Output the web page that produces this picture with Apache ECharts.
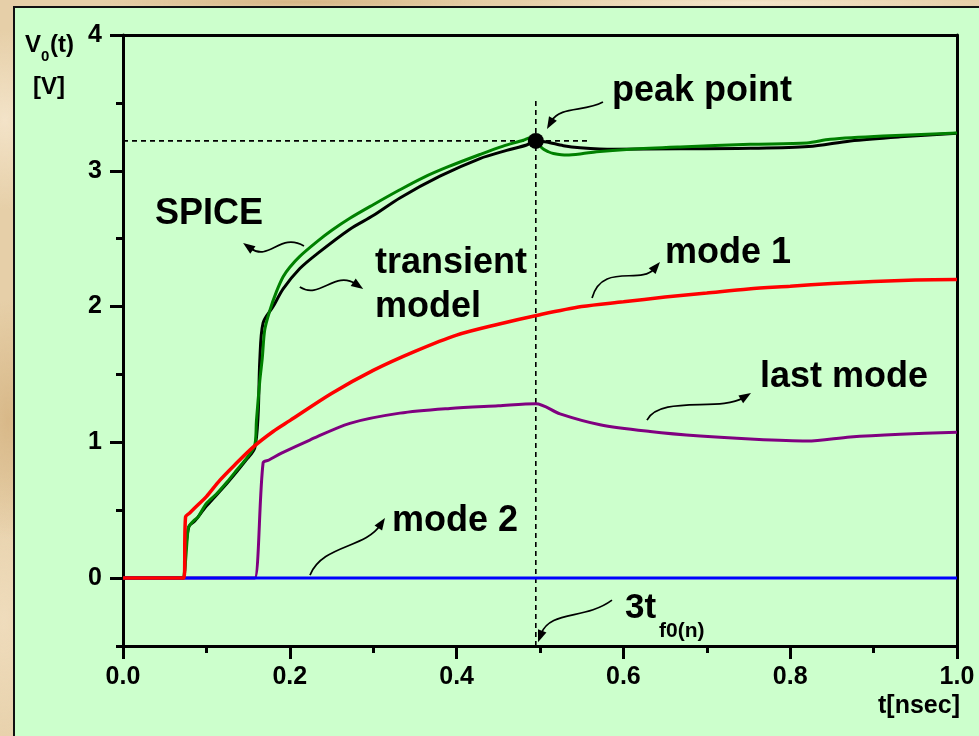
<!DOCTYPE html>
<html><head><meta charset="utf-8">
<script src="https://cdn.jsdelivr.net/npm/echarts@6/dist/echarts.min.js"></script>
<style>
html,body{margin:0;padding:0;width:979px;height:736px;overflow:hidden;}
body{background-color:#e6cfa8;
background-image:
 radial-gradient(ellipse 60px 90px at 5px 120px,#f3e3c8 0%,rgba(243,227,200,0) 100%),
 radial-gradient(ellipse 50px 120px at 8px 420px,#d8b888 0%,rgba(216,184,136,0) 100%),
 radial-gradient(ellipse 200px 8px at 300px 2px,#d6b585 0%,rgba(214,181,133,0) 100%),
 radial-gradient(ellipse 240px 8px at 750px 3px,#f4e6cc 0%,rgba(244,230,204,0) 100%),
 radial-gradient(ellipse 60px 150px at 4px 620px,#efdcbc 0%,rgba(239,220,188,0) 100%);}
#panel{position:absolute;left:13px;top:6px;width:990px;height:760px;background:#ccffcc;border-left:2px solid #111;border-top:2px solid #111;box-sizing:border-box;}
#chart{position:absolute;left:0;top:0;width:979px;height:736px;}
</style>
</head><body>
<div id="panel"></div>
<div id="chart"></div>
<script>
// ---- data (t in nsec, V in volts) ----
const spice = [[0,0],[0.06,0],[0.071,0],[0.074,0.06],[0.078,0.36],[0.080,0.39],[0.086,0.43],[0.09,0.45],[0.1,0.55],[0.112,0.62],[0.125,0.71],[0.137,0.80],[0.149,0.89],[0.158,0.98],[0.160,1.16],[0.164,1.45],[0.167,1.62],[0.170,1.83],[0.176,1.97],[0.184,2.11],[0.192,2.22],[0.2,2.29],[0.212,2.37],[0.233,2.48],[0.25,2.56],[0.272,2.65],[0.3,2.75],[0.332,2.86],[0.36,2.95],[0.39,3.03],[0.428,3.12],[0.455,3.18],[0.48,3.225],[0.489,3.245],[0.495,3.235],[0.502,3.17],[0.51,3.14],[0.516,3.128],[0.532,3.116],[0.55,3.125],[0.568,3.14],[0.608,3.158],[0.668,3.175],[0.752,3.195],[0.82,3.205],[0.848,3.232],[0.911,3.256],[1.0,3.278]];
const transientModel = [[0,0],[0.06,0],[0.072,0],[0.075,0.2],[0.079,0.38],[0.086,0.42],[0.1,0.53],[0.125,0.70],[0.149,0.88],[0.158,0.96],[0.162,1.2],[0.164,1.6],[0.168,1.88],[0.18,2.0],[0.192,2.13],[0.212,2.28],[0.233,2.39],[0.272,2.57],[0.3,2.67],[0.332,2.80],[0.38,2.96],[0.428,3.09],[0.46,3.15],[0.484,3.19],[0.495,3.22],[0.508,3.212],[0.528,3.185],[0.548,3.17],[0.588,3.158],[0.668,3.162],[0.752,3.165],[0.822,3.178],[0.872,3.22],[0.932,3.25],[1.0,3.276]];
const mode1 = [[0,0],[0.06,0],[0.073,0],[0.075,0.45],[0.08,0.48],[0.09,0.54],[0.1,0.6],[0.116,0.72],[0.135,0.84],[0.156,0.965],[0.18,1.08],[0.2,1.16],[0.25,1.36],[0.3,1.53],[0.35,1.67],[0.4,1.79],[0.45,1.87],[0.5,1.94],[0.55,2.0],[0.6,2.035],[0.65,2.07],[0.7,2.10],[0.75,2.13],[0.8,2.15],[0.85,2.17],[0.9,2.185],[0.95,2.195],[1.0,2.2]];
const lastMode = [[0,0],[0.15,0],[0.158,0],[0.168,0.85],[0.175,0.87],[0.19,0.92],[0.224,1.017],[0.272,1.14],[0.332,1.215],[0.392,1.25],[0.45,1.27],[0.495,1.285],[0.524,1.21],[0.572,1.13],[0.632,1.08],[0.692,1.046],[0.752,1.024],[0.82,1.01],[0.872,1.04],[0.932,1.06],[1.0,1.075]];
const mode2 = [[0,0],[0.5,0],[1.0,0]];
const peakPoint = [[0.495,3.22]];
const peakVGuide = [[0.495,-0.5],[0.495,3.52]];
const peakHGuide = [[0,3.22],[0.56,3.22]];
const yMajorTicks = [0,1,2,3,4];
const xTickStep = 0.2;

// annotation labels: [text, t, V, size]
const labels = [
  ['peak point',0.5863,3.59,36],
  ['SPICE',0.0384,2.68,36],
  ['transient',0.3022,2.318,36],
  ['model',0.3022,1.994,36],
  ['mode 1',0.6499,2.391,36],
  ['last mode',0.7638,1.478,36],
  ['mode 2',0.3225,0.417,36],
  ['3t',0.6019,-0.226,35],
  ['f0(n)',0.6427,-0.392,21]
];
// arrows: tail, control1, control2, head (data coords)
const arrows = [
  [[0.217,2.446],[0.188,2.549],[0.176,2.328],[0.144,2.468]],
  [[0.212,2.144],[0.236,2.048],[0.254,2.269],[0.288,2.129]],
  [[0.5755,3.506],[0.554,3.433],[0.524,3.477],[0.5084,3.308]],
  [[0.5624,2.063],[0.5743,2.328],[0.620,2.158],[0.6439,2.328]],
  [[0.6283,1.164],[0.6439,1.348],[0.7158,1.223],[0.753,1.363]],
  [[0.2242,0.022],[0.2386,0.243],[0.2902,0.221],[0.3141,0.442]],
  [[0.5863,-0.162],[0.554,-0.309],[0.512,-0.236],[0.4976,-0.4715]]
];

const FONT = '"Liberation Sans", Arial, Helvetica, sans-serif';
const chart = echarts.init(document.getElementById('chart'), null, {renderer:'canvas'});
const axisLine = {onZero:false, lineStyle:{color:'#000', width:3}};
const lineSeries = (name, data, color, width, z) => ({
  name, type:'line', data, showSymbol:false, symbol:'none', z,
  smooth:0.3,
  lineStyle:{color, width}, animation:false, silent:true
});
chart.setOption({
  animation:false,
  backgroundColor:'transparent',
  grid:{left:123, top:35, width:834, height:611, show:false},
  xAxis:[
    {type:'value', min:0, max:1, interval:xTickStep, position:'bottom',
     axisLine:axisLine,
     axisTick:{length:13, lineStyle:{color:'#000', width:3}},
     minorTick:{show:true, splitNumber:2, length:7, lineStyle:{color:'#000', width:3}},
     splitLine:{show:false}, minorSplitLine:{show:false},
     axisLabel:{formatter:v=>v.toFixed(1), fontSize:25, fontWeight:'bold', color:'#000', fontFamily:FONT, margin:19}},
    {type:'value', min:0, max:1, position:'top',
     axisLine:axisLine, axisTick:{show:false}, axisLabel:{show:false}, splitLine:{show:false}}
  ],
  yAxis:[
    {type:'value', min:-0.5, max:4, position:'left',
     axisLine:axisLine,
     axisTick:{customValues:yMajorTicks, length:13, lineStyle:{color:'#000', width:3}},
     splitLine:{show:false},
     axisLabel:{customValues:yMajorTicks, fontSize:25, fontWeight:'bold', color:'#000', fontFamily:FONT, margin:21}},
    {type:'value', min:-0.5, max:4, interval:0.5, position:'left',
     axisLine:{show:false, onZero:false}, axisTick:{length:7, lineStyle:{color:'#000', width:3}},
     axisLabel:{show:false}, splitLine:{show:false}},
    {type:'value', min:-0.5, max:4, position:'right',
     axisLine:axisLine, axisTick:{show:false}, axisLabel:{show:false}, splitLine:{show:false}}
  ],
  series:[
    {type:'line', data:peakVGuide, symbol:'none', z:3, lineStyle:{color:'#000', width:1.6, type:[5,4]}, silent:true},
    {type:'line', data:peakHGuide, symbol:'none', z:3, lineStyle:{color:'#000', width:1.6, type:[5,4]}, silent:true},
    lineSeries('last mode', lastMode, '#800080', 3, 4),
    lineSeries('transient model', transientModel, '#000000', 3, 5),
    lineSeries('SPICE', spice, '#008000', 3, 6),
    lineSeries('mode 2', mode2, '#0000ff', 3, 6.5),
    lineSeries('mode 1', mode1, '#ff0000', 3.5, 7),
    {type:'scatter', data:peakPoint, symbol:'circle', symbolSize:16, itemStyle:{color:'#000', opacity:1}, z:8, silent:true}
  ]
});

function px(p){ return chart.convertToPixel({gridIndex:0}, p); }
const els = [];
labels.forEach(([txt,t,v,size])=>{
  const p = px([t,v]);
  els.push({type:'text', x:p[0], y:p[1], z:100, silent:true,
    style:{text:txt, fill:'#000', font:'bold '+size+'px '+FONT, align:'left', verticalAlign:'middle'}});
});
arrows.forEach(a=>{
  const P = a.map(px);
  const dx = P[3][0]-P[2][0], dy = P[3][1]-P[2][1];
  const L = Math.hypot(dx,dy)||1, ux=dx/L, uy=dy/L;
  const HL=12, HW=4.5;
  const bx=P[3][0]-ux*HL, by=P[3][1]-uy*HL;
  els.push({type:'bezierCurve', z:100, silent:true,
    shape:{x1:P[0][0],y1:P[0][1],cpx1:P[1][0],cpy1:P[1][1],cpx2:P[2][0],cpy2:P[2][1],x2:bx+ux*3,y2:by+uy*3},
    style:{stroke:'#000', lineWidth:1.7, fill:null}});
  els.push({type:'polygon', z:100, silent:true,
    shape:{points:[[P[3][0],P[3][1]],[bx-uy*HW,by+ux*HW],[bx+uy*HW,by-ux*HW]]},
    style:{fill:'#000'}});
});
// axis titles
els.push({type:'text', x:25, y:45, z:100, style:{text:'V', fill:'#000', font:'bold 24px '+FONT, verticalAlign:'middle'}});
els.push({type:'text', x:41, y:57, z:100, style:{text:'0', fill:'#000', font:'bold 15px '+FONT, verticalAlign:'middle'}});
els.push({type:'text', x:50, y:45, z:100, style:{text:'(t)', fill:'#000', font:'bold 24px '+FONT, verticalAlign:'middle'}});
els.push({type:'text', x:33, y:87, z:100, style:{text:'[V]', fill:'#000', font:'bold 24px '+FONT, verticalAlign:'middle'}});
els.push({type:'text', x:960, y:706, z:100, style:{text:'t[nsec]', fill:'#000', font:'bold 25px '+FONT, align:'right', verticalAlign:'middle'}});
chart.setOption({graphic:{elements:els}});
</script>
</body></html>
